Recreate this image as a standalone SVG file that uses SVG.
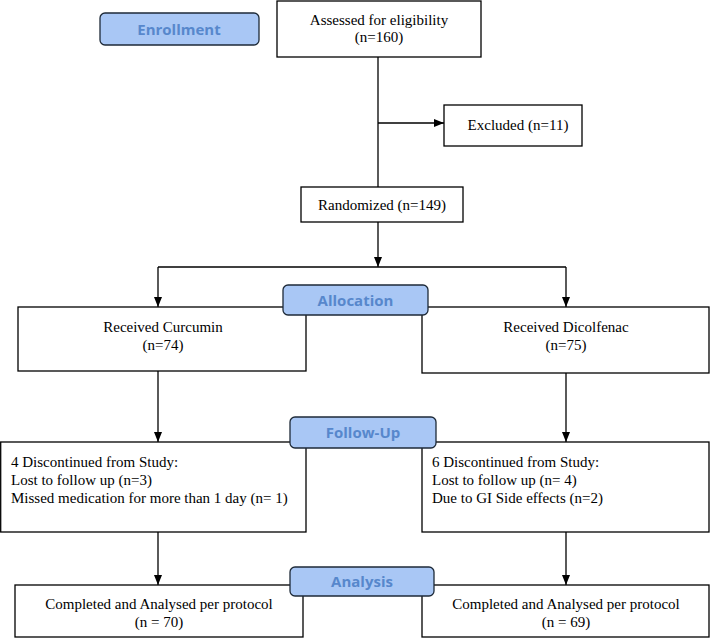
<svg xmlns="http://www.w3.org/2000/svg" width="710" height="638" viewBox="0 0 710 638">
<defs>
<marker id="ah" markerUnits="userSpaceOnUse" markerWidth="10" markerHeight="10" viewBox="0 0 10 10" refX="10" refY="5" orient="auto">
<path d="M0,1 L10,5 L0,9 Z" fill="#000"/>
</marker>
<style>
.box{fill:#fff;stroke:#000;stroke-width:1.3}
.t{font-family:"Liberation Serif","Times New Roman",serif;font-size:15px;fill:#000}
.m{text-anchor:middle}
.lbl{fill:#a9c7f5;stroke:#1e2a38;stroke-width:1.3}
.lt{font-family:"Open Sans","Noto Sans",sans-serif;font-weight:bold;font-size:15px;fill:#5787cc;text-anchor:middle}
.c{fill:none;stroke:#000;stroke-width:1.3}
</style>
</defs>
<rect width="710" height="638" fill="#fff"/>
<g id="connectors">
<path class="c" d="M378,57 V187"/>
<path class="c" d="M378,123 H444" marker-end="url(#ah)"/>
<path class="c" d="M378,222 V267" marker-end="url(#ah)"/>
<path class="c" d="M158,267 H566"/>
<path class="c" d="M158,267 V307" marker-end="url(#ah)"/>
<path class="c" d="M566,267 V307" marker-end="url(#ah)"/>
<path class="c" d="M158,371 V442" marker-end="url(#ah)"/>
<path class="c" d="M566,373 V442" marker-end="url(#ah)"/>
<path class="c" d="M158,532 V585" marker-end="url(#ah)"/>
<path class="c" d="M566,532 V585" marker-end="url(#ah)"/>
</g>
<g id="assessed">
<rect class="box" x="277" y="1" width="204" height="56"/>
<text class="t m" x="379" y="25">Assessed for eligibility</text>
<text class="t m" x="379" y="42">(n=160)</text>
</g>
<g id="excluded">
<rect class="box" x="444" y="105" width="138" height="41"/>
<text class="t m" x="518" y="130">Excluded (n=11)</text>
</g>
<g id="randomized">
<rect class="box" x="301" y="187" width="162" height="35"/>
<text class="t m" x="382" y="210">Randomized (n=149)</text>
</g>
<g id="curcumin">
<rect class="box" x="18" y="307" width="288" height="64"/>
<text class="t m" x="163" y="332">Received Curcumin</text>
<text class="t m" x="163" y="350">(n=74)</text>
</g>
<g id="dicolfenac">
<rect class="box" x="422" y="307" width="287" height="66"/>
<text class="t m" x="566" y="332">Received Dicolfenac</text>
<text class="t m" x="566" y="350">(n=75)</text>
</g>
<g id="discontinued-left">
<rect class="box" x="0.7" y="442" width="305.3" height="90"/>
<text class="t" x="11" y="467">4 Discontinued from Study:</text>
<text class="t" x="11" y="485">Lost to follow up (n=3)</text>
<text class="t" x="11" y="503">Missed medication for more than 1 day (n= 1)</text>
</g>
<g id="discontinued-right">
<rect class="box" x="422" y="442" width="287" height="90"/>
<text class="t" x="432" y="467">6 Discontinued from Study:</text>
<text class="t" x="432" y="485">Lost to follow up (n= 4)</text>
<text class="t" x="432" y="503">Due to GI Side effects (n=2)</text>
</g>
<g id="analysed-left">
<rect class="box" x="15" y="585" width="288" height="52"/>
<text class="t m" x="159" y="609">Completed and Analysed per protocol</text>
<text class="t m" x="159" y="627">(n = 70)</text>
</g>
<g id="analysed-right">
<rect class="box" x="422" y="585" width="287" height="52"/>
<text class="t m" x="566" y="609">Completed and Analysed per protocol</text>
<text class="t m" x="566" y="627">(n = 69)</text>
</g>
<g id="enrollment">
<rect class="lbl" x="100" y="13" width="159" height="32" rx="5"/>
<text class="lt" x="179" y="35">Enrollment</text>
</g>
<g id="allocation">
<rect class="lbl" x="283" y="285" width="145" height="30" rx="5"/>
<text class="lt" x="355.5" y="306">Allocation</text>
</g>
<g id="follow-up">
<rect class="lbl" x="290" y="417" width="146" height="31" rx="5"/>
<text class="lt" x="363" y="438">Follow-Up</text>
</g>
<g id="analysis">
<rect class="lbl" x="290" y="567" width="144" height="29" rx="5"/>
<text class="lt" x="362" y="587">Analysis</text>
</g>
</svg>
